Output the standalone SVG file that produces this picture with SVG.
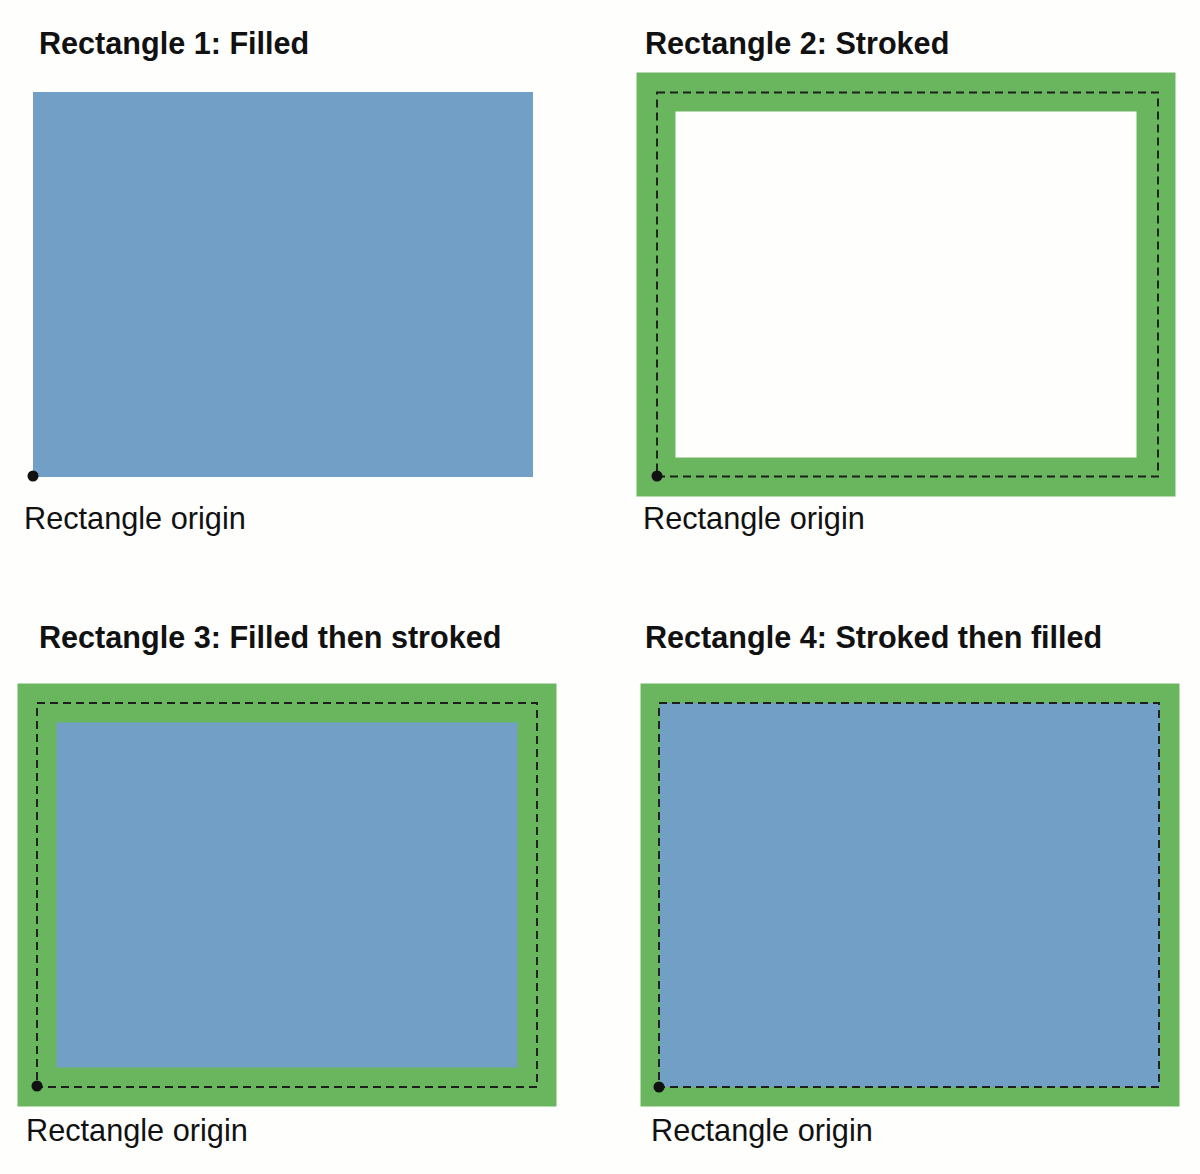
<svg xmlns="http://www.w3.org/2000/svg" width="1200" height="1174" viewBox="0 0 1200 1174">
  <style>
    .title { font-family: "Liberation Sans", Arial, sans-serif; font-weight: bold; font-size: 30.6px; fill: #111; }
    .label { font-family: "Liberation Sans", Arial, sans-serif; font-size: 30.7px; fill: #111; }
    .fill { fill: #729fc6; }
    .stroke { fill: none; stroke: #6ab65f; stroke-width: 39; }
    .dash { fill: none; stroke: #1e1e1e; stroke-width: 1.9; stroke-dasharray: 8 5; }
    .dot { fill: #111; }
  </style>
  <rect width="1200" height="1174" fill="#fefefd"/>

  <g id="rect1">
    <text class="title" x="39" y="54">Rectangle 1: Filled</text>
    <rect class="fill" x="33" y="92" width="500" height="385"/>
    <circle class="dot" cx="33" cy="476" r="5.5"/>
    <text class="label" x="24" y="529">Rectangle origin</text>
  </g>

  <g id="rect2">
    <text class="title" x="645" y="54">Rectangle 2: Stroked</text>
    <rect class="stroke" x="656" y="92" width="500" height="385"/>
    <rect class="dash" x="657" y="92.5" width="501" height="384"/>
    <circle class="dot" cx="657" cy="476" r="5.5"/>
    <text class="label" x="643" y="529">Rectangle origin</text>
  </g>

  <g id="rect3">
    <text class="title" x="39" y="648">Rectangle 3: Filled then stroked</text>
    <rect class="fill" x="37" y="703" width="500" height="384"/>
    <rect class="stroke" x="37" y="703" width="500" height="384"/>
    <rect class="dash" x="37" y="703" width="500" height="384"/>
    <circle class="dot" cx="37" cy="1086" r="5.5"/>
    <text class="label" x="26" y="1141">Rectangle origin</text>
  </g>

  <g id="rect4">
    <text class="title" x="645" y="648">Rectangle 4: Stroked then filled</text>
    <rect class="stroke" x="660" y="703" width="500" height="384"/>
    <rect class="fill" x="660" y="703" width="500" height="384"/>
    <rect class="dash" x="659" y="703" width="500" height="384"/>
    <circle class="dot" cx="659" cy="1087" r="5.5"/>
    <text class="label" x="651" y="1141">Rectangle origin</text>
  </g>
</svg>
